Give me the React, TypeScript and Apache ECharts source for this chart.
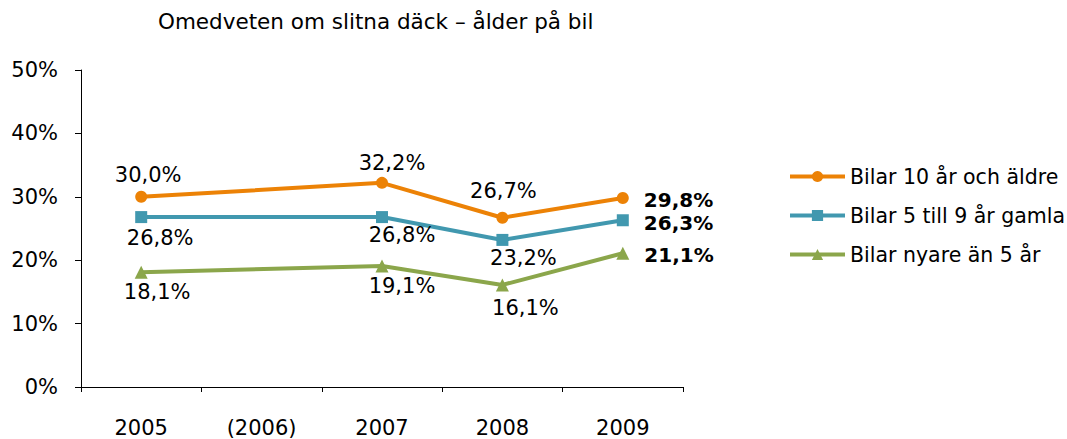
import React, { useEffect, useRef } from "react";
import * as echarts from "echarts";

const years = ["2005", "(2006)", "2007", "2008", "2009"];
const olderCars = [30.0, null, 32.2, 26.7, 29.8];
const midCars = [26.8, null, 26.8, 23.2, 26.3];
const newerCars = [18.1, null, 19.1, 16.1, 21.1];
const yTicks = [0, 10, 20, 30, 40, 50];
const seriesNames = ["Bilar 10 år och äldre", "Bilar 5 till 9 år gamla", "Bilar nyare än 5 år"];

const FONT = "'DejaVu Sans', Arial, Helvetica, sans-serif";
const fmt = (v: number) => v.toFixed(1).replace(".", ",") + "%";

// label offsets (style), centre of label relative to point
const olderOff: (number[] | null)[] = [[7, -22], null, [10, -20], [1, -27], null];
const midOff: (number[] | null)[] = [[19, 21], null, [20, 18], [21, 18], null];
const newerOff: (number[] | null)[] = [[16, 20], null, [20, 20], [23, 23], null];

function buildData(vals: (number | null)[], offs: (number[] | null)[], lastDy: number) {
  return vals.map((v, i) => {
    if (v === null) return null;
    const isLast = i === vals.length - 1;
    if (isLast) {
      return {
        value: v,
        label: {
          show: true,
          position: "right",
          distance: 15,
          offset: [0, lastDy],
          fontWeight: "bold",
          fontSize: 20,
          color: "#000",
          fontFamily: FONT,
          formatter: () => fmt(v),
        },
      };
    }
    const o = offs[i] || [0, 0];
    return {
      value: v,
      label: {
        show: true,
        position: "inside",
        offset: o,
        fontSize: 21,
        color: "#000",
        fontFamily: FONT,
        formatter: () => fmt(v),
      },
    };
  });
}

export default function App() {
  const ref = useRef<HTMLDivElement>(null);
  useEffect(() => {
    document.body.style.margin = "0";
    if (!ref.current) return;
    const chart = echarts.init(ref.current, undefined, { renderer: "svg" });
    const colors = ["#EC8206", "#4198AF", "#8BA64B"];
    chart.setOption({
      animation: false,
      backgroundColor: "#fff",
      title: {
        text: "Omedveten om slitna däck – ålder på bil",
        left: 158,
        top: 10,
        padding: 0,
        textStyle: { fontSize: 21.5, fontWeight: "normal", color: "#000", fontFamily: FONT },
      },
      legend: {
        orient: "vertical",
        left: 788,
        top: 166,
        padding: 0,
        itemWidth: 55,
        itemHeight: 14,
        itemGap: 18,
        lineStyle: { width: 4 },
        textStyle: { fontSize: 20.5, color: "#000", fontFamily: FONT },
        data: seriesNames,
      },
      grid: { left: 81, top: 70, width: 602, height: 317, containLabel: false },
      xAxis: {
        type: "category",
        data: years,
        boundaryGap: true,
        axisLine: { lineStyle: { color: "#000", width: 1 } },
        axisTick: { show: true, length: 5, lineStyle: { color: "#000" } },
        axisLabel: { fontSize: 21, color: "#000", fontFamily: FONT, margin: 30 },
        splitLine: { show: false },
      },
      yAxis: {
        type: "value",
        min: yTicks[0],
        max: yTicks[yTicks.length - 1],
        interval: 10,
        axisLine: { show: true, lineStyle: { color: "#000", width: 1 } },
        axisTick: { show: true, length: 6, lineStyle: { color: "#000" } },
        axisLabel: { fontSize: 21, color: "#000", fontFamily: FONT, margin: 23, formatter: "{value}%" },
        splitLine: { show: false },
      },
      series: [
        {
          name: seriesNames[0],
          type: "line",
          data: buildData(olderCars, olderOff, 2),
          connectNulls: true,
          symbol: "circle",
          symbolSize: 12,
          lineStyle: { width: 4, color: colors[0] },
          itemStyle: { color: colors[0] },
        },
        {
          name: seriesNames[1],
          type: "line",
          data: buildData(midCars, midOff, 3),
          connectNulls: true,
          symbol: "rect",
          symbolSize: 12,
          lineStyle: { width: 4, color: colors[1] },
          itemStyle: { color: colors[1] },
        },
        {
          name: seriesNames[2],
          type: "line",
          data: buildData(newerCars, newerOff, 2),
          connectNulls: true,
          symbol: "triangle",
          symbolSize: 13,
          lineStyle: { width: 4, color: colors[2] },
          itemStyle: { color: colors[2] },
        },
      ],
    });
    return () => chart.dispose();
  }, []);
  return <div ref={ref} style={{ width: 1067, height: 439 }} />;
}
